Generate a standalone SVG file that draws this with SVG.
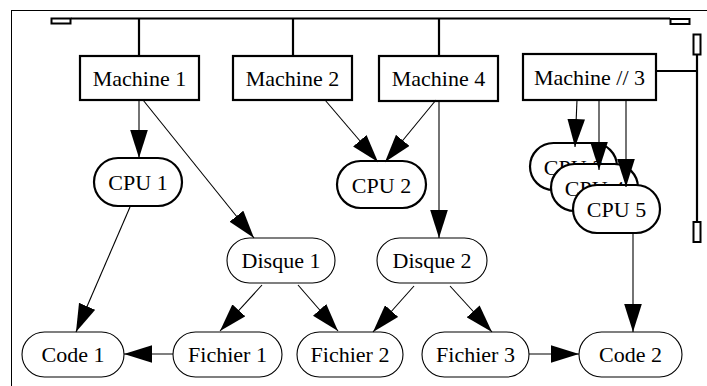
<svg xmlns="http://www.w3.org/2000/svg" width="707" height="386" viewBox="0 0 707 386">
  <defs>
    <marker id="arrow" markerUnits="userSpaceOnUse" markerWidth="28" markerHeight="18" viewBox="0 0 27 17" refX="27" refY="8.5" orient="auto">
      <path d="M0,0 L27,8.5 L0,17 z" fill="#000"/>
    </marker>
  </defs>
  <style>
    text { font-family: "Liberation Serif", "Times New Roman", serif; font-size: 22px; fill: #000; text-anchor: middle; }
    .machine { fill: #fff; stroke: #000; stroke-width: 2.2; }
    .cpu { fill: #fff; stroke: #000; stroke-width: 2.2; }
    .store { fill: #fff; stroke: #000; stroke-width: 1.1; }
    .bus { fill: none; stroke: #000; stroke-width: 2.2; }
    .busend { fill: #fff; stroke: #000; stroke-width: 2; }
    .edge { fill: none; stroke: #000; stroke-width: 1.1; marker-end: url(#arrow); }
  </style>

  <rect width="707" height="386" fill="#fff"/>
  <!-- outer frame -->
  <rect x="11.5" y="10.5" width="720" height="400" fill="none" stroke="#000" stroke-width="1"/>

  <!-- network buses -->
  <g id="bus">
    <line class="bus" x1="71" y1="18.5" x2="670" y2="18.5"/>
    <rect class="busend" x="51.5" y="18.5" width="19" height="5"/>
    <rect class="busend" x="670.5" y="19" width="19" height="5"/>
    <line class="bus" x1="139" y1="18.5" x2="139" y2="56"/>
    <line class="bus" x1="293" y1="18.5" x2="293" y2="56"/>
    <line class="bus" x1="439" y1="18.5" x2="439" y2="56"/>
    <line class="bus" x1="697" y1="55" x2="697" y2="222"/>
    <rect class="busend" x="693.5" y="34.5" width="7" height="20"/>
    <rect class="busend" x="693.5" y="222" width="7" height="20"/>
    <line class="bus" x1="656" y1="71" x2="697" y2="71"/>
  </g>

  <!-- machines -->
  <g id="machine1"><rect class="machine" x="80" y="56" width="119" height="44"/><text x="139.5" y="86">Machine 1</text></g>
  <g id="machine2"><rect class="machine" x="233" y="56" width="119" height="44"/><text x="292.5" y="86">Machine 2</text></g>
  <g id="machine4"><rect class="machine" x="379" y="56" width="119" height="45"/><text x="438.5" y="86">Machine 4</text></g>
  <g id="machine3"><rect class="machine" x="523" y="54" width="133" height="46"/><text x="589.5" y="85">Machine // 3</text></g>

  <!-- processors -->
  <g id="cpu1"><rect class="cpu" x="94" y="158" width="88" height="48" rx="24"/><text x="138" y="190">CPU 1</text></g>
  <g id="cpu2"><rect class="cpu" x="337" y="161" width="89" height="47" rx="23.5"/><text x="381.5" y="192.5">CPU 2</text></g>
  <g id="cpu3"><rect class="cpu" x="530" y="143" width="87" height="47" rx="23.5"/><text x="573.5" y="174.5">CPU 3</text></g>
  <g id="cpu4"><rect class="cpu" x="551" y="164" width="87" height="47" rx="23.5"/><text x="594.5" y="195.5">CPU 4</text></g>
  <g id="cpu5"><rect class="cpu" x="573" y="185" width="87" height="48" rx="24"/><text x="616.5" y="217">CPU 5</text></g>

  <!-- disks -->
  <g id="disque1"><rect class="store" x="227" y="238" width="108" height="45" rx="22.5"/><text x="281" y="268">Disque 1</text></g>
  <g id="disque2"><rect class="store" x="377" y="238" width="110" height="45" rx="22.5"/><text x="432" y="268">Disque 2</text></g>

  <!-- files and code -->
  <g id="code1"><rect class="store" x="22" y="332" width="102" height="45" rx="22.5"/><text x="73" y="362">Code 1</text></g>
  <g id="fichier1"><rect class="store" x="173" y="332" width="109" height="45" rx="22.5"/><text x="227.5" y="362">Fichier 1</text></g>
  <g id="fichier2"><rect class="store" x="297" y="332" width="106" height="45" rx="22.5"/><text x="350" y="362">Fichier 2</text></g>
  <g id="fichier3"><rect class="store" x="422" y="332" width="107" height="45" rx="22.5"/><text x="475.5" y="362">Fichier 3</text></g>
  <g id="code2"><rect class="store" x="579" y="332" width="103" height="45" rx="22.5"/><text x="630.5" y="362">Code 2</text></g>

  <!-- connectors -->
  <g id="edges">
    <line class="edge" x1="139" y1="100" x2="139" y2="158"/>
    <line class="edge" x1="143" y1="100" x2="254" y2="238"/>
    <line class="edge" x1="325" y1="100" x2="378" y2="162"/>
    <line class="edge" x1="436" y1="100" x2="385" y2="162"/>
    <line class="edge" x1="439" y1="101" x2="439" y2="238"/>
    <line class="edge" x1="577" y1="100" x2="575" y2="147"/>
    <line class="edge" x1="599" y1="100" x2="599" y2="170"/>
    <line class="edge" x1="626" y1="100" x2="626" y2="187"/>
    <line class="edge" x1="130" y1="207" x2="76" y2="332"/>
    <line class="edge" x1="633" y1="233" x2="633" y2="332"/>
    <line class="edge" x1="262" y1="285" x2="220" y2="331"/>
    <line class="edge" x1="298" y1="285" x2="338" y2="331"/>
    <line class="edge" x1="414" y1="286" x2="373" y2="332"/>
    <line class="edge" x1="450" y1="286" x2="492" y2="332"/>
    <line class="edge" x1="173" y1="354" x2="124" y2="354"/>
    <line class="edge" x1="529" y1="354" x2="579" y2="354"/>
  </g>
</svg>
